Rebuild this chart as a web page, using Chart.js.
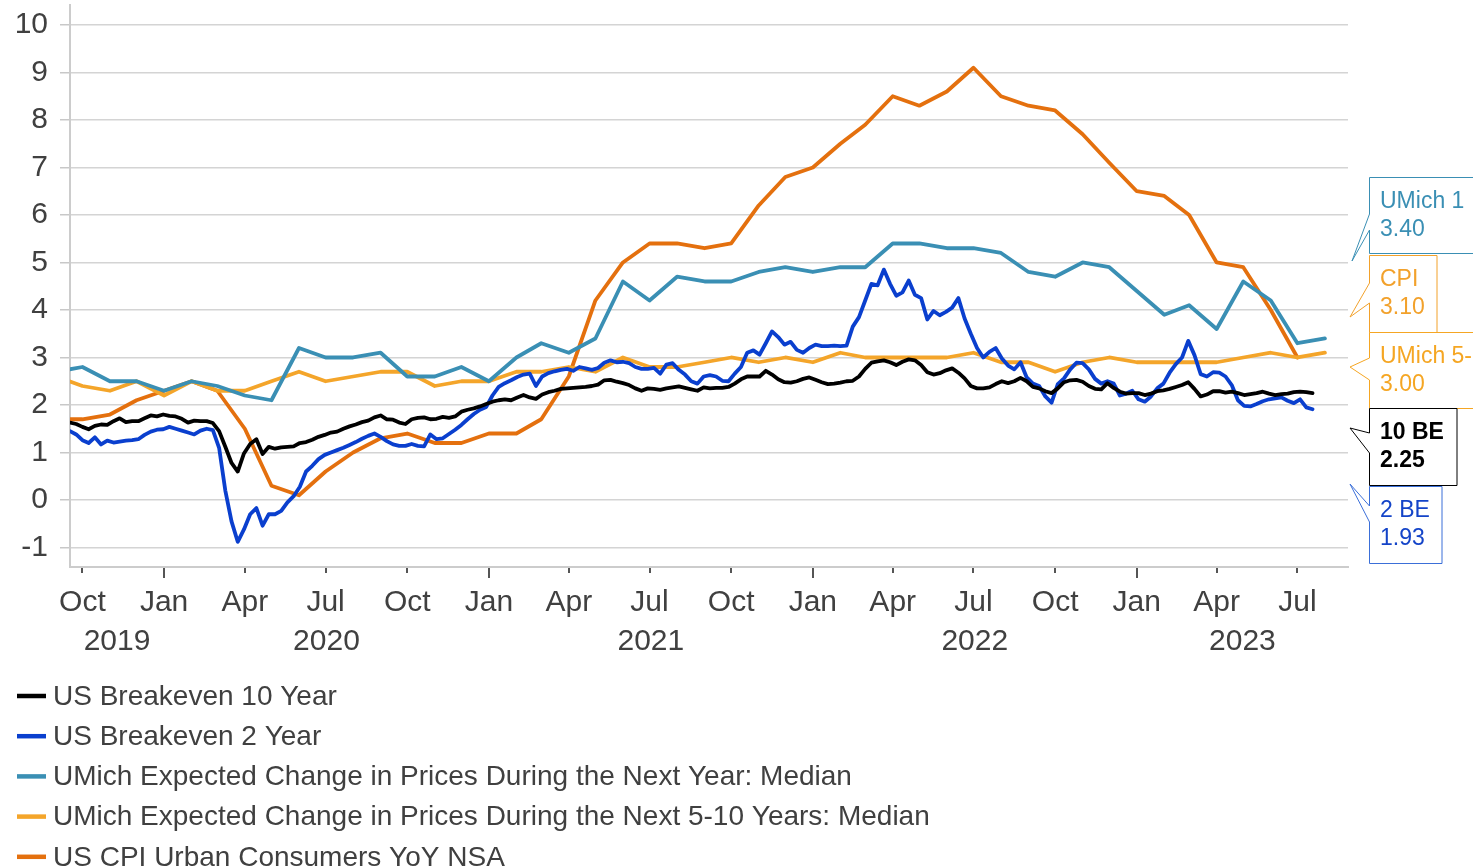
<!DOCTYPE html>
<html lang="en">
<head>
  <meta charset="UTF-8" />
  <title>Breakevens, UMich expectations and CPI</title>
  <style>
    body { margin: 0; background: #fff; }
    #wrap { width: 1473px; height: 868px; position: relative; overflow: hidden; }
  </style>
  <script src="https://cdn.jsdelivr.net/npm/chart.js"></script>
</head>
<body>
  <div id="wrap"><canvas id="chart" width="1473" height="868"></canvas></div>

  <script>
    // monthly series, each value sits at the end of its month
    const months = [
      '2019-08','2019-09','2019-10','2019-11','2019-12',
      '2020-01','2020-02','2020-03','2020-04','2020-05','2020-06','2020-07','2020-08','2020-09','2020-10','2020-11','2020-12',
      '2021-01','2021-02','2021-03','2021-04','2021-05','2021-06','2021-07','2021-08','2021-09','2021-10','2021-11','2021-12',
      '2022-01','2022-02','2022-03','2022-04','2022-05','2022-06','2022-07','2022-08','2022-09','2022-10','2022-11','2022-12',
      '2023-01','2023-02','2023-03','2023-04','2023-05','2023-06','2023-07'
    ];
    const cpi = [
      1.7, 1.7, 1.8, 2.1, 2.3,
      2.5, 2.3, 1.5, 0.3, 0.1, 0.6, 1.0, 1.3, 1.4, 1.2, 1.2, 1.4,
      1.4, 1.7, 2.6, 4.2, 5.0, 5.4, 5.4, 5.3, 5.4, 6.2, 6.8, 7.0,
      7.5, 7.9, 8.5, 8.3, 8.6, 9.1, 8.5, 8.3, 8.2, 7.7, 7.1, 6.5,
      6.4, 6.0, 5.0, 4.9, 4.0, 3.0, null
    ];
    const umich1y = [
      2.7, 2.8, 2.5, 2.5, 2.3,
      2.5, 2.4, 2.2, 2.1, 3.2, 3.0, 3.0, 3.1, 2.6, 2.6, 2.8, 2.5,
      3.0, 3.3, 3.1, 3.4, 4.6, 4.2, 4.7, 4.6, 4.6, 4.8, 4.9, 4.8,
      4.9, 4.9, 5.4, 5.4, 5.3, 5.3, 5.2, 4.8, 4.7, 5.0, 4.9, 4.4,
      3.9, 4.1, 3.6, 4.6, 4.2, 3.3, 3.4
    ];
    const umich5y = [
      2.6, 2.4, 2.3, 2.5, 2.2,
      2.5, 2.3, 2.3, 2.5, 2.7, 2.5, 2.6, 2.7, 2.7, 2.4, 2.5, 2.5,
      2.7, 2.7, 2.8, 2.7, 3.0, 2.8, 2.8, 2.9, 3.0, 2.9, 3.0, 2.9,
      3.1, 3.0, 3.0, 3.0, 3.0, 3.1, 2.9, 2.9, 2.7, 2.9, 3.0, 2.9,
      2.9, 2.9, 2.9, 3.0, 3.1, 3.0, 3.1
    ];

    // weekly breakevens, first reading on weekStart
    const weekStart = '2019-09-17';
    const be10 = [
      1.63, 1.60, 1.54, 1.49, 1.56, 1.59, 1.58, 1.66, 1.72, 1.64,
      1.66, 1.66, 1.72, 1.78, 1.76, 1.80, 1.77, 1.76, 1.71, 1.63,
      1.67, 1.66, 1.66, 1.62, 1.45, 1.12, 0.78, 0.60, 0.98, 1.18,
      1.28, 0.97, 1.12, 1.08, 1.11, 1.12, 1.13, 1.20, 1.22, 1.27,
      1.33, 1.37, 1.42, 1.44, 1.50, 1.55, 1.59, 1.64, 1.67, 1.74,
      1.78, 1.70, 1.69, 1.63, 1.60, 1.70, 1.73, 1.74, 1.70, 1.71,
      1.75, 1.73, 1.76, 1.86, 1.90, 1.93, 1.97, 2.02, 2.07, 2.10,
      2.12, 2.10, 2.16, 2.21, 2.16, 2.13, 2.22, 2.27, 2.30, 2.34,
      2.35, 2.36, 2.37, 2.38, 2.40, 2.43, 2.52, 2.53, 2.49, 2.46,
      2.42, 2.35, 2.30, 2.35, 2.34, 2.32, 2.35, 2.37, 2.39, 2.36,
      2.33, 2.30, 2.37, 2.35, 2.36, 2.36, 2.38, 2.45, 2.54, 2.60,
      2.60, 2.60, 2.72, 2.64, 2.54, 2.48, 2.47, 2.50, 2.55, 2.58,
      2.53, 2.48, 2.44, 2.45, 2.47, 2.50, 2.51, 2.60, 2.76, 2.89,
      2.92, 2.94, 2.90, 2.84, 2.91, 2.96, 2.94, 2.84, 2.69, 2.64,
      2.67, 2.73, 2.77, 2.68, 2.56, 2.40, 2.35, 2.35, 2.37, 2.44,
      2.50, 2.46, 2.50, 2.57, 2.50, 2.38, 2.35, 2.29, 2.25, 2.35,
      2.48, 2.52, 2.53, 2.49, 2.40, 2.34, 2.33, 2.46, 2.36, 2.28,
      2.24, 2.25, 2.25, 2.21, 2.24, 2.29, 2.31, 2.34, 2.38, 2.42,
      2.48, 2.34, 2.18, 2.22, 2.29, 2.29, 2.26, 2.28, 2.25, 2.21,
      2.23, 2.25, 2.28, 2.24, 2.21, 2.23, 2.24, 2.27, 2.28, 2.27,
      2.25
    ];
    const be2 = [
      1.45, 1.38, 1.26, 1.20, 1.32, 1.17, 1.25, 1.21, 1.23, 1.25,
      1.26, 1.28, 1.37, 1.44, 1.48, 1.49, 1.54, 1.50, 1.46, 1.42,
      1.38, 1.46, 1.50, 1.47, 1.10, 0.20, -0.45, -0.88, -0.62, -0.30,
      -0.17, -0.54, -0.30, -0.30, -0.23, -0.05, 0.08, 0.28, 0.60, 0.72,
      0.86, 0.95, 1.00, 1.05, 1.10, 1.16, 1.22, 1.29, 1.35, 1.40,
      1.33, 1.24, 1.17, 1.14, 1.14, 1.18, 1.14, 1.13, 1.38, 1.28,
      1.30, 1.39, 1.48, 1.58, 1.70, 1.81, 1.90, 1.96, 2.20, 2.38,
      2.46, 2.52, 2.59, 2.64, 2.66, 2.40, 2.60, 2.67, 2.71, 2.74,
      2.76, 2.72, 2.80, 2.77, 2.74, 2.78, 2.89, 2.94, 2.90, 2.91,
      2.88, 2.80, 2.76, 2.76, 2.78, 2.66, 2.85, 2.88, 2.74, 2.64,
      2.50, 2.45, 2.60, 2.63, 2.60, 2.51, 2.50, 2.66, 2.80, 3.10,
      3.15, 3.06, 3.30, 3.55, 3.43, 3.27, 3.33, 3.16, 3.10, 3.20,
      3.27, 3.24, 3.24, 3.25, 3.24, 3.25, 3.65, 3.85, 4.20, 4.55,
      4.52, 4.85, 4.55, 4.30, 4.37, 4.62, 4.32, 4.25, 3.80, 3.98,
      3.89, 3.96, 4.05, 4.25, 3.82, 3.50, 3.20, 3.00, 3.12, 3.20,
      2.98, 2.83, 2.75, 2.90, 2.58, 2.45, 2.40, 2.18, 2.05, 2.44,
      2.56, 2.75, 2.89, 2.88, 2.75, 2.55, 2.45, 2.50, 2.45, 2.20,
      2.24, 2.30, 2.12, 2.07, 2.18, 2.35, 2.45, 2.68, 2.86, 3.00,
      3.35, 3.05, 2.65, 2.60, 2.69, 2.68, 2.60, 2.42, 2.10, 1.98,
      1.97, 2.02, 2.08, 2.12, 2.14, 2.16, 2.09, 2.04, 2.12, 1.95,
      1.91
    ];

    // axis
    const xStart = '2019-09-17';
    const xEnd = '2023-08-27';
    const quarterTicks = [
      '2019-10-01','2020-01-01','2020-04-01','2020-07-01','2020-10-01',
      '2021-01-01','2021-04-01','2021-07-01','2021-10-01',
      '2022-01-01','2022-04-01','2022-07-01','2022-10-01',
      '2023-01-01','2023-04-01','2023-07-01'
    ];
    const monthNames = ['Jan','Feb','Mar','Apr','May','Jun','Jul','Aug','Sep','Oct','Nov','Dec'];
    const years = [2019, 2020, 2021, 2022, 2023];
    const yTicks = [-1, 0, 1, 2, 3, 4, 5, 6, 7, 8, 9, 10];

    // last-value callouts on the right
    const calloutNames = ['UMich 1', 'CPI', 'UMich 5-10', '10 BE', '2 BE'];
    const calloutValues = ['3.40', '3.10', '3.00', '2.25', '1.93'];

    const DAY = 86400000;
    const ORIGIN = Date.UTC(2019, 9, 1);
    function dayOf(s) {
      const [y, m, d] = s.split('-').map(Number);
      return (Date.UTC(y, m - 1, d) - ORIGIN) / DAY;
    }
    function monthEnd(s) {
      const [y, m] = s.split('-').map(Number);
      return (Date.UTC(y, m, 1) - ORIGIN) / DAY;
    }
    const monthly = vals => months.map((m, i) => ({ x: monthEnd(m), y: vals[i] }));
    const weekly = vals => vals.map((v, i) => ({ x: dayOf(weekStart) + 7 * i, y: v }));

    const FONT = "'Liberation Sans', Arial, sans-serif";
    const TEXT = '#404040';

    const line = (label, data, color) => ({
      label, data, borderColor: color, backgroundColor: color,
      borderWidth: 3.8, pointRadius: 0, tension: 0, fill: false,
      borderJoinStyle: 'round', borderCapStyle: 'round'
    });

    const callouts = [
      { color: '#3a8fb4', text: '#3a8fb4', bold: false, x: 1369, y: 177, w: 120, h: 76, tip: [1352, 261], a: [214, 230] },
      { color: '#f2a12b', text: '#f2a12b', bold: false, x: 1369, y: 255, w: 68, h: 77, tip: [1350, 317], a: [283, 303] },
      { color: '#f5a623', text: '#f5a623', bold: false, x: 1369, y: 332, w: 120, h: 76, tip: [1350, 367], a: [358, 380] },
      { color: '#000000', text: '#000000', bold: true, x: 1369, y: 408, w: 88, h: 77, tip: [1350, 428], a: [433, 453] },
      { color: '#3b6fd8', text: '#1444c8', bold: false, x: 1369, y: 486, w: 73, h: 77, tip: [1350, 484], a: [506, 522] }
    ];

    const extras = {
      id: 'extras',
      afterDraw(chart) {
        const ctx = chart.ctx;
        const xs = chart.scales.x;
        const area = chart.chartArea;
        ctx.save();

        // quarter tick marks, longer at January
        ctx.strokeStyle = '#555';
        ctx.lineWidth = 2;
        xs.ticks.forEach(t => {
          const px = Math.round(xs.getPixelForValue(t.value));
          const jan = new Date(ORIGIN + t.value * DAY).getUTCMonth() === 0;
          ctx.beginPath();
          ctx.moveTo(px, area.bottom + 1);
          ctx.lineTo(px, area.bottom + (jan ? 11 : 6));
          ctx.stroke();
        });

        // year labels centred on the visible part of each year
        ctx.font = '30px ' + FONT;
        ctx.fillStyle = TEXT;
        ctx.textAlign = 'center';
        ctx.textBaseline = 'middle';
        years.forEach(yr => {
          const a = Math.max(dayOf(yr + '-01-01'), xs.min);
          const b = Math.min(dayOf((yr + 1) + '-01-01'), xs.max);
          const px = (xs.getPixelForValue(a) + xs.getPixelForValue(b)) / 2;
          ctx.fillText(String(yr), px, 642);
        });

        // legend, one entry per row
        ctx.textAlign = 'left';
        ctx.font = '28px ' + FONT;
        chart.data.datasets.forEach((ds, i) => {
          const y = 696 + i * 40.2;
          ctx.strokeStyle = ds.borderColor;
          ctx.lineWidth = 4.5;
          ctx.lineCap = 'butt';
          ctx.beginPath();
          ctx.moveTo(17, y);
          ctx.lineTo(46, y);
          ctx.stroke();
          ctx.fillStyle = TEXT;
          ctx.fillText(ds.label, 53, y + 1);
        });

        // callouts
        callouts.forEach((c, i) => {
          ctx.beginPath();
          ctx.moveTo(c.x + 0.5, c.y + 0.5);
          ctx.lineTo(c.x + c.w, c.y + 0.5);
          ctx.lineTo(c.x + c.w, c.y + c.h + 0.5);
          ctx.lineTo(c.x + 0.5, c.y + c.h + 0.5);
          ctx.lineTo(c.x + 0.5, c.a[1]);
          ctx.lineTo(c.tip[0], c.tip[1]);
          ctx.lineTo(c.x + 0.5, c.a[0]);
          ctx.closePath();
          ctx.fillStyle = '#fff';
          ctx.fill();
          ctx.strokeStyle = c.color;
          ctx.lineWidth = 1;
          ctx.stroke();
          ctx.fillStyle = c.text;
          ctx.font = (c.bold ? 'bold ' : '') + '23px ' + FONT;
          ctx.textBaseline = 'middle';
          ctx.fillText(calloutNames[i], c.x + 11, c.y + 25);
          ctx.fillText(calloutValues[i], c.x + 11, c.y + 53);
        });
        ctx.restore();
      }
    };

    new Chart(document.getElementById('chart'), {
      type: 'line',
      data: {
        datasets: [
          line('US Breakeven 10 Year', weekly(be10), '#000000'),
          line('US Breakeven 2 Year', weekly(be2), '#0a3fce'),
          line('UMich Expected Change in Prices During the Next Year: Median', monthly(umich1y), '#3a8fb4'),
          line('UMich Expected Change in Prices During the Next 5-10 Years: Median', monthly(umich5y), '#f4a52a'),
          line('US CPI Urban Consumers YoY NSA', monthly(cpi), '#e4700e')
        ]
      },
      options: {
        responsive: false,
        animation: false,
        layout: { padding: { top: 5, right: 125, bottom: 221, left: 0 } },
        plugins: { legend: { display: false }, tooltip: { enabled: false } },
        scales: {
          x: {
            type: 'linear',
            min: dayOf(xStart),
            max: dayOf(xEnd),
            afterBuildTicks: s => { s.ticks = quarterTicks.map(d => ({ value: dayOf(d) })); },
            afterFit: s => { s.height = 80; s.paddingLeft = 0; s.paddingRight = 0; },
            grid: { display: false },
            border: { display: true, color: '#cccccc', width: 2 },
            ticks: {
              autoSkip: false, maxRotation: 0, padding: 10,
              color: TEXT, font: { size: 30, family: FONT },
              callback: v => monthNames[new Date(ORIGIN + v * DAY).getUTCMonth()]
            }
          },
          y: {
            min: -1.41,
            max: 10.42,
            afterBuildTicks: s => { s.ticks = yTicks.map(v => ({ value: v })); },
            afterFit: s => { s.width = 70; s.paddingTop = 0; s.paddingBottom = 0; },
            grid: { color: '#d4d4d4', lineWidth: 1.5, tickLength: 10, tickColor: '#c8c8c8' },
            border: { display: true, color: '#cccccc', width: 2 },
            ticks: { padding: 12, color: TEXT, font: { size: 30, family: FONT } }
          }
        }
      },
      plugins: [extras]
    });
  </script>
</body>
</html>
